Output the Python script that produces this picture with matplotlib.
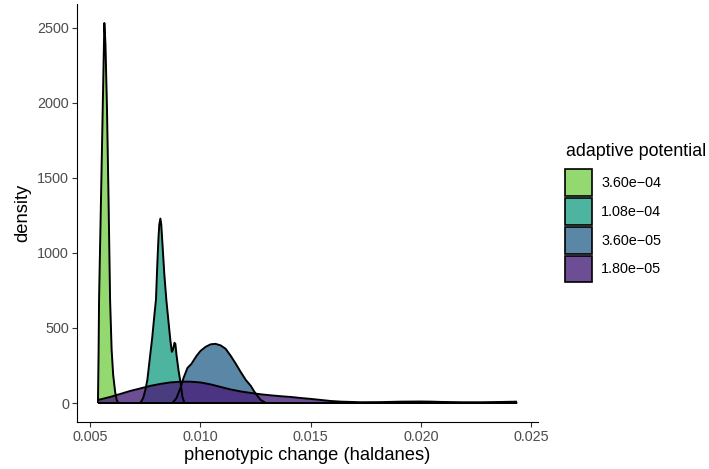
import matplotlib
matplotlib.use("Agg")
import matplotlib.pyplot as plt
from matplotlib.patches import Rectangle

plt.rcParams['font.family'] = ['Liberation Sans', 'DejaVu Sans']

# density curves per adaptive-potential level (x in haldanes, y = density)
green_x = [0.00536, 0.00539, 0.00541, 0.00548, 0.00555, 0.00561, 0.00565, 0.00570,
           0.00577, 0.00584, 0.00591, 0.00598, 0.00605, 0.00614, 0.00621, 0.00628, 0.02436]
green_y = [0, 354, 688, 1222, 1757, 2224, 2532, 2391,
           1957, 1356, 688, 354, 187, 73, 20, 0, 0]

teal_x = [0.00536, 0.00728, 0.00741, 0.00751, 0.00760, 0.00773, 0.00782, 0.00792, 0.00799,
          0.00805, 0.00810, 0.00814, 0.00819, 0.00823, 0.00830, 0.00837, 0.00846, 0.00855,
          0.00864, 0.00871, 0.00876, 0.00883, 0.00887, 0.00892, 0.00901, 0.00910, 0.00919,
          0.00928, 0.02436]
teal_y = [0, 0, 33, 87, 154, 321, 434, 588, 688,
          922, 1089, 1189, 1229, 1189, 1022, 855, 688, 554,
          421, 341, 354, 401, 394, 321, 220, 140, 40,
          0, 0]

blue_x = [0.00536, 0.00874, 0.00892, 0.00910, 0.00924, 0.00942, 0.00960, 0.00983, 0.01001,
          0.01024, 0.01047, 0.01069, 0.01092, 0.01115, 0.01138, 0.01161, 0.01183, 0.01206,
          0.01229, 0.01243, 0.01252, 0.01274, 0.01297, 0.02436]
blue_y = [0, 0, 33, 100, 167, 234, 261, 314, 347,
          374, 391, 394, 384, 361, 314, 261, 207, 154,
          114, 80, 60, 20, 0, 0]

purple_x = [0.00536, 0.00591, 0.00637, 0.00682, 0.00728, 0.00773, 0.00819, 0.00864, 0.00910,
            0.00956, 0.01001, 0.01047, 0.01092, 0.01138, 0.01183, 0.01229, 0.01274, 0.01320,
            0.01366, 0.01411, 0.01457, 0.01502, 0.01548, 0.01593, 0.01639, 0.01730, 0.01821,
            0.01912, 0.02003, 0.02049, 0.02095, 0.02186, 0.02277, 0.02368, 0.02436]
purple_y = [20, 40, 60, 80, 97, 114, 127, 137, 142,
            142, 137, 124, 107, 90, 77, 67, 58, 51,
            45, 40, 33, 27, 20, 13, 9, 5, 6,
            9, 10, 9, 7, 5, 5, 7, 9]

levels = ["3.60e\u221204", "1.08e\u221204", "3.60e\u221205", "1.80e\u221205"]
fills = ["#7AD04B", "#20A288", "#326990", "#482078"]
curves = [(green_x, green_y), (teal_x, teal_y), (blue_x, blue_y), (purple_x, purple_y)]

fig = plt.figure(figsize=(7.09, 4.69), dpi=100)
W, H = 709.0, 469.0
ax = fig.add_axes([77 / W, 1 - 422 / H, (538 - 77) / W, (422 - 4) / H])

# each group: filled area first, then its upper outline
for (x, y), c in zip(curves, fills):
    ax.fill_between(x, 0, y, color=c, alpha=0.8, linewidth=0)
    ax.plot(x, y, color="black", linewidth=1.4, solid_capstyle="butt")

# ggplot-style 5% expansion
xmin, xmax = min(purple_x), max(purple_x)
ymax = max(green_y)
ax.set_xlim(xmin - 0.05 * (xmax - xmin), xmax + 0.05 * (xmax - xmin))
ax.set_ylim(-0.05 * ymax, 1.05 * ymax)

ax.set_xticks([0.005, 0.010, 0.015, 0.020, 0.025])
ax.set_xticklabels(["0.005", "0.010", "0.015", "0.020", "0.025"])
ax.set_yticks([0, 500, 1000, 1500, 2000, 2500])

for side in ["top", "right"]:
    ax.spines[side].set_visible(False)
for side in ["left", "bottom"]:
    ax.spines[side].set_linewidth(0.8)
    ax.spines[side].set_color("black")
ax.tick_params(axis="both", length=3.3, width=0.8, color="#333333",
               labelcolor="#4D4D4D", labelsize=10.4, pad=2.5)

ax.set_xlabel("phenotypic change (haldanes)", fontsize=13.2, labelpad=2)
ax.set_ylabel("density", fontsize=13.2, labelpad=4)

# legend, drawn in figure pixels
fig.text(566 / W, 1 - 152 / H, "adaptive potential", fontsize=12.9,
         ha="left", va="center")
key_top = 169
key_h = 28.7
for i, (lab, c) in enumerate(zip(levels, fills)):
    top = key_top + i * key_h
    fig.add_artist(Rectangle((565 / W, 1 - (top + key_h - 1.5) / H),
                             27 / W, (key_h - 2) / H, transform=fig.transFigure,
                             facecolor=c, alpha=0.8, edgecolor="none"))
    fig.add_artist(Rectangle((565 / W, 1 - (top + key_h - 1.5) / H),
                             27 / W, (key_h - 2) / H, transform=fig.transFigure,
                             facecolor="none", edgecolor="black", linewidth=1.2))
    fig.text(601 / W, 1 - (top + key_h / 2) / H, lab, fontsize=10.4,
             ha="left", va="center")

fig.savefig("out.png", dpi=100)
